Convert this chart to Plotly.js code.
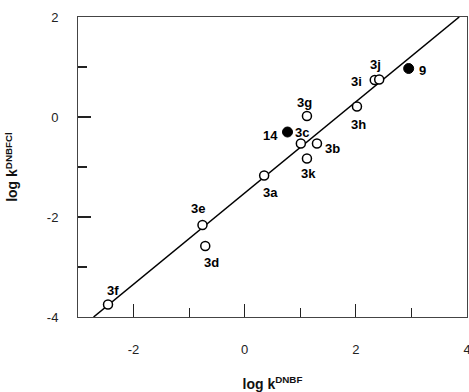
<!DOCTYPE html>
<html>
<head>
<meta charset="utf-8">
<script src="https://cdn.plot.ly/plotly-3.0.1.min.js"></script>
<style>html,body{margin:0;padding:0;background:#fff;}</style>
</head>
<body>
<div id="chart" style="width:469px;height:392px;"></div>
<script>
// Data
var openLabels = ["3a","3b","3c","3d","3e","3f","3g","3h","3i","3j","3k"];
var openX      = [0.35, 1.30, 1.01, -0.71, -0.76, -2.46, 1.12, 2.02, 2.34, 2.42, 1.12];
var openY      = [-1.17, -0.53, -0.53, -2.58, -2.16, -3.75, 0.02, 0.21, 0.74, 0.75, -0.83];

var filledLabels = ["14","9"];
var filledX      = [0.77, 2.95];
var filledY      = [-0.30, 0.97];

// Correlation line (slope/intercept) and its x extent
var fitSlope = 0.912;
var fitIntercept = -1.52;
var fitXRange = [-2.72, 3.86];

var xTickVals = [-2, 0, 2, 4];
var xTickText = ["-2", "0", "2", "4"];
var yTickVals = [-4, -2, 0, 2];
var yTickText = ["-4", "-2", "0", "2"];

// label offsets (px) for each point label
var openLabelOffsets = {
  "3a":[6,17], "3b":[16,5], "3c":[1,-11], "3d":[6,16], "3e":[-4,-17], "3f":[5,-14],
  "3g":[-2,-14], "3h":[2,18], "3i":[-18,1], "3j":[-4,-15], "3k":[2,15]
};
var filledLabelOffsets = { "14":[-17,3], "9":[14,2] };

var fitY = fitXRange.map(function(x){ return fitSlope * x + fitIntercept; });

var traces = [
  {x: fitXRange, y: fitY, mode: 'lines', line: {color: '#000', width: 1.5}, hoverinfo: 'skip'},
  {x: openX, y: openY, mode: 'markers', marker: {symbol: 'circle', size: 9, color: '#fff', line: {color: '#000', width: 1.5}}},
  {x: filledX, y: filledY, mode: 'markers', marker: {symbol: 'circle', size: 10, color: '#000', line: {color: '#000', width: 1}}}
];

var FAM = 'Liberation Sans, Arial, sans-serif';
var annotations = [];
function addLabels(labels, xs, ys, offs) {
  for (var i = 0; i < labels.length; i++) {
    var o = offs[labels[i]];
    annotations.push({
      x: xs[i], y: ys[i], xref: 'x', yref: 'y', text: '<b>' + labels[i] + '</b>', showarrow: false,
      xshift: o[0], yshift: -o[1],
      font: {family: FAM, size: 13, color: '#000'}
    });
  }
}
addLabels(openLabels, openX, openY, openLabelOffsets);
addLabels(filledLabels, filledX, filledY, filledLabelOffsets);

var axisFont = {family: FAM, size: 13, color: '#222'};

var layout = {
  width: 469, height: 392,
  margin: {l: 78, r: 2, t: 17, b: 75},
  paper_bgcolor: '#fff', plot_bgcolor: '#fff',
  showlegend: false,
  font: axisFont,
  xaxis: {
    range: [-3, 4], tickvals: xTickVals, ticktext: xTickText, ticks: 'inside', ticklen: 13, tickwidth: 1.2, tickcolor: '#222',
    minor: {dtick: 1, ticks: 'inside', ticklen: 9, tickwidth: 1.2, tickcolor: '#222', showgrid: false},
    showgrid: false, zeroline: false, showline: true, linecolor: '#444', linewidth: 1, mirror: true,
    ticklabelstandoff: 20, ticklabeloverflow: 'allow', tickfont: axisFont,
    title: {text: '<b>log k<sup>DNBF</sup></b>', font: {family: FAM, size: 14, color: '#111'}, standoff: 24}
  },
  yaxis: {
    range: [-4, 2], tickvals: yTickVals, ticktext: yTickText, ticks: 'inside', ticklen: 13, tickwidth: 1.2, tickcolor: '#222',
    minor: {dtick: 1, ticks: 'inside', ticklen: 9, tickwidth: 1.2, tickcolor: '#222', showgrid: false},
    showgrid: false, zeroline: false, showline: true, linecolor: '#444', linewidth: 1, mirror: true,
    ticklabelstandoff: 16, tickfont: axisFont,
    title: {text: '<b>log k<sup>DNBFCl</sup></b>', font: {family: FAM, size: 14, color: '#111'}, standoff: 25}
  },
  annotations: annotations
};

Plotly.newPlot('chart', traces, layout, {displayModeBar: false, staticPlot: true});
</script>
</body>
</html>
